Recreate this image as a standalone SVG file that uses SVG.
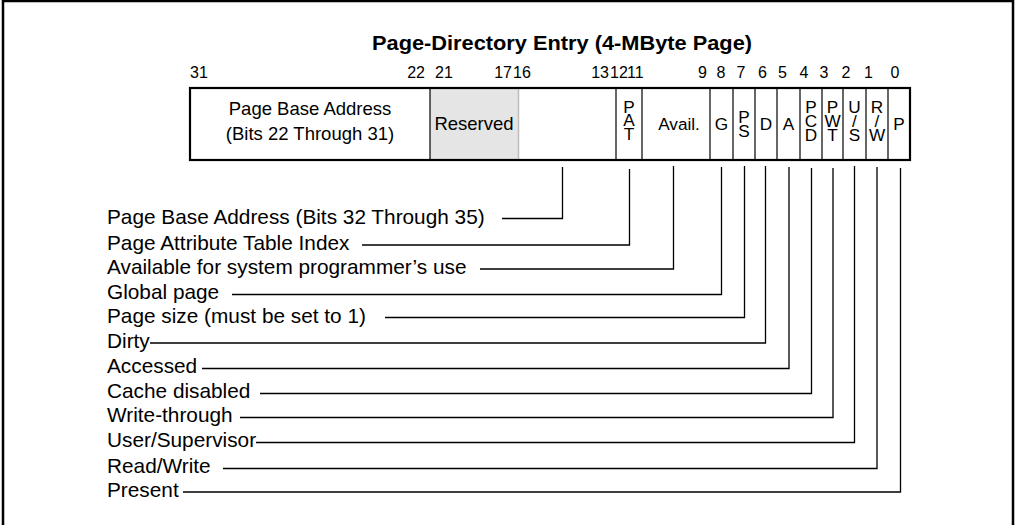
<svg xmlns="http://www.w3.org/2000/svg" width="1015" height="525" viewBox="0 0 1015 525">
<style>
text{font-family:"Liberation Sans",Arial,Helvetica,sans-serif;fill:#000}
.title{font-size:19.5px;font-weight:bold}
.num{font-size:16px}
.box{font-size:18.5px}
.cell{font-size:17.2px;text-anchor:middle}
.lab{font-size:20.8px}
.div{stroke:#000;stroke-width:1.2;fill:none}
.con{stroke:#000;stroke-width:1.3;fill:none}
</style>
<rect x="3" y="1" width="1010" height="540" fill="#fff" stroke="#000" stroke-width="2.5"/>
<text class="title" x="562" y="50" text-anchor="middle" textLength="380" lengthAdjust="spacingAndGlyphs">Page-Directory Entry  (4-MByte Page)</text>
<g id="bitnumbers" class="num">
<text x="190" y="78">31</text>
<text x="425" y="78" text-anchor="end">22</text>
<text x="435" y="78">21</text>
<text x="512" y="78" text-anchor="end">17</text>
<text x="513" y="78">16</text>
<text x="609" y="78" text-anchor="end">13</text>
<text x="610" y="78">12</text>
<text x="627" y="78">11</text>
<text x="702.5" y="78" text-anchor="middle">9</text>
<text x="721" y="78" text-anchor="middle">8</text>
<text x="741" y="78" text-anchor="middle">7</text>
<text x="762.5" y="78" text-anchor="middle">6</text>
<text x="782.5" y="78" text-anchor="middle">5</text>
<text x="804" y="78" text-anchor="middle">4</text>
<text x="824" y="78" text-anchor="middle">3</text>
<text x="846" y="78" text-anchor="middle">2</text>
<text x="868.5" y="78" text-anchor="middle">1</text>
<text x="895" y="78" text-anchor="middle">0</text>
</g>
<g id="register">
<rect x="430" y="88" width="88" height="72" fill="#e5e5e5"/>
<line x1="518.5" y1="88" x2="518.5" y2="160" stroke="#bdbdbd" stroke-width="1.5"/>
<g class="div">
<line x1="430" y1="88" x2="430" y2="160"/>
<line x1="616" y1="88" x2="616" y2="160"/>
<line x1="642" y1="88" x2="642" y2="160"/>
<line x1="710" y1="88" x2="710" y2="160"/>
<line x1="733" y1="88" x2="733" y2="160"/>
<line x1="755" y1="88" x2="755" y2="160"/>
<line x1="777" y1="88" x2="777" y2="160"/>
<line x1="800" y1="88" x2="800" y2="160"/>
<line x1="822" y1="88" x2="822" y2="160"/>
<line x1="843" y1="88" x2="843" y2="160"/>
<line x1="866" y1="88" x2="866" y2="160"/>
<line x1="888" y1="88" x2="888" y2="160"/>
</g>
<rect x="190" y="88" width="720" height="72" fill="none" stroke="#000" stroke-width="2.2"/>
</g>
<g id="field-base">
<text class="box" x="310" y="115" text-anchor="middle">Page Base Address</text>
<text class="box" x="310" y="140" text-anchor="middle">(Bits 22 Through 31)</text>
</g>
<g id="field-reserved"><text class="box" x="474" y="130" text-anchor="middle">Reserved</text></g>
<g id="field-pat"><text class="cell" x="629" y="112.5"><tspan x="629">P</tspan><tspan x="629" dy="13.5">A</tspan><tspan x="629" dy="13.5">T</tspan></text></g>
<g id="field-avail"><text class="cell" x="679" y="129.5">Avail.</text></g>
<g id="field-g"><text class="cell" x="721.5" y="129.5">G</text></g>
<g id="field-ps"><text class="cell" x="744" y="123"><tspan x="744">P</tspan><tspan x="744" dy="14">S</tspan></text></g>
<g id="field-d"><text class="cell" x="766" y="129.5">D</text></g>
<g id="field-a"><text class="cell" x="788.5" y="129.5">A</text></g>
<g id="field-pcd"><text class="cell" x="811" y="113"><tspan x="811">P</tspan><tspan x="811" dy="14">C</tspan><tspan x="811" dy="14">D</tspan></text></g>
<g id="field-pwt"><text class="cell" x="832.5" y="113"><tspan x="832.5">P</tspan><tspan x="832.5" dy="14">W</tspan><tspan x="832.5" dy="14">T</tspan></text></g>
<g id="field-us"><text class="cell" x="854.5" y="113"><tspan x="854.5">U</tspan><tspan x="854.5" dy="14">/</tspan><tspan x="854.5" dy="14">S</tspan></text></g>
<g id="field-rw"><text class="cell" x="877" y="113"><tspan x="877">R</tspan><tspan x="877" dy="14">/</tspan><tspan x="877" dy="14">W</tspan></text></g>
<g id="field-p"><text class="cell" x="899" y="129.5">P</text></g>
<g id="labels" class="lab">
<text x="107" y="224">Page Base Address (Bits 32 Through 35)</text>
<text x="107" y="250">Page Attribute Table Index</text>
<text x="107" y="274">Available for system programmer’s use</text>
<text x="107" y="299">Global page</text>
<text x="107" y="323">Page size (must be set to 1)</text>
<text x="107" y="348">Dirty</text>
<text x="107" y="373">Accessed</text>
<text x="107" y="398">Cache disabled</text>
<text x="107" y="422">Write-through</text>
<text x="107" y="447">User/Supervisor</text>
<text x="107" y="473">Read/Write</text>
<text x="107" y="497">Present</text>
</g>
<g id="connectors" class="con">
<polyline points="502,218.5 562.5,218.5 562.5,167"/>
<polyline points="362,245 629.5,245 629.5,169"/>
<polyline points="480,269 673.5,269 673.5,166"/>
<polyline points="232,294.5 721.5,294.5 721.5,167"/>
<polyline points="385,317.5 744.5,317.5 744.5,166"/>
<polyline points="150,343 765.5,343 765.5,166"/>
<polyline points="202,368.5 789,368.5 789,167"/>
<polyline points="260,393.5 811.5,393.5 811.5,168"/>
<polyline points="240,417.5 833,417.5 833,168"/>
<polyline points="256,442.5 854.5,442.5 854.5,166"/>
<polyline points="223,468.5 877,468.5 877,167"/>
<polyline points="183,492 900.5,492 900.5,168"/>
</g>
</svg>
